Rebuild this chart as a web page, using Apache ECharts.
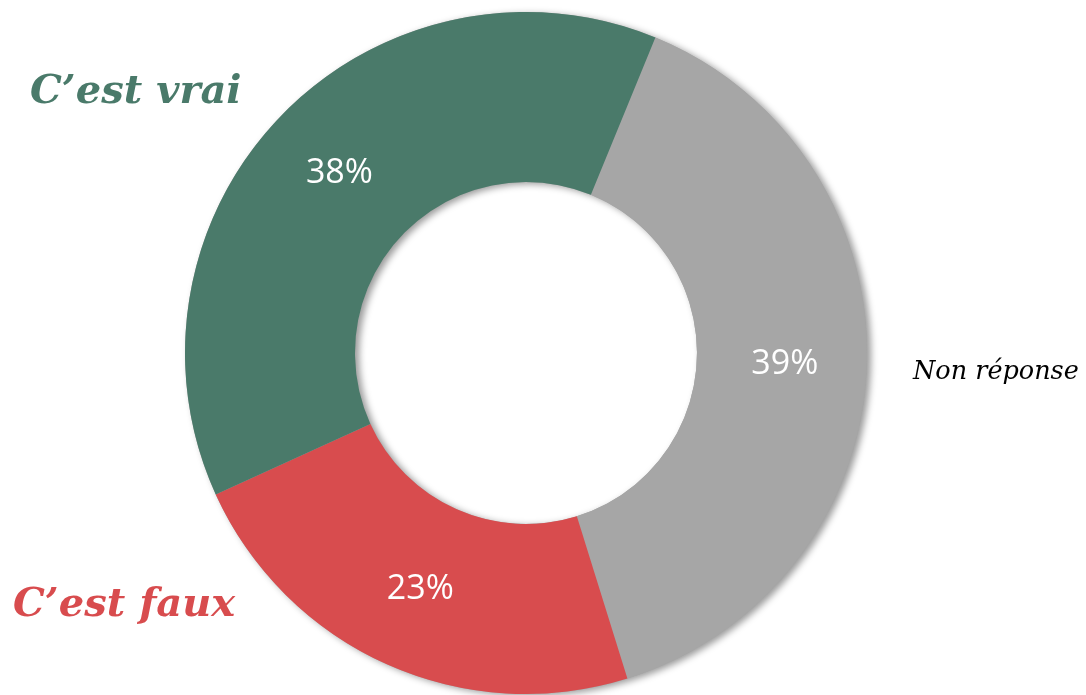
<!DOCTYPE html>
<html>
<head>
<meta charset="utf-8">
<script src="https://cdn.jsdelivr.net/npm/echarts@6/dist/echarts.min.js"></script>
<style>
  html, body { margin: 0; padding: 0; background: #fff; }
  #main { width: 1086px; height: 695px; }
</style>
</head>
<body>
<div id="main"></div>
<script>
// valeurs (sens horaire depuis le haut-droite)
var categories = ['Non réponse', "C’est faux", "C’est vrai"]
var values = [39, 23, 38]
var colors = ['#a6a6a6', '#d84c4e', '#4a7a6a']

var myChart = echarts.init(document.getElementById('main'))

var option = {
  backgroundColor: '#fff',
  animation: false,
  series: [
    // anneau de fond, seulement pour l'ombre
    {
      type: 'pie',
      silent: true,
      center: [526, 353],
      radius: [171, 341],
      z: 1,
      data: [{ value: 1, itemStyle: { color: '#a6a6a6' } }],
      itemStyle: {
        shadowColor: 'rgba(0,0,0,0.4)',
        shadowBlur: 7,
        shadowOffsetX: 4,
        shadowOffsetY: 2
      },
      label: { show: false },
      labelLine: { show: false }
    },
    {
      type: 'pie',
      center: [526, 353],
      radius: [171, 341],
      startAngle: 67.7,
      clockwise: true,
      z: 2,
      data: categories.map(function (c, i) {
        return { name: c, value: values[i], itemStyle: { color: colors[i] } }
      }),
      label: {
        show: true,
        position: 'inside',
        formatter: '{c}%',
        color: '#fff',
        fontFamily: 'Open Sans',
        fontSize: 34,
        padding: [8, 0, 0, 0]
      },
      labelLine: { show: false },
      emphasis: { disabled: true }
    }
  ],
  graphic: [
    {
      type: 'text', left: 30, top: 73,
      style: { text: "C’est vrai", fill: '#4a7a6a', font: 'italic bold 40px "DejaVu Serif"' }
    },
    {
      type: 'text', left: 13, top: 586,
      style: { text: "C’est faux", fill: '#d84c4e', font: 'italic bold 40px "DejaVu Serif"' }
    },
    {
      type: 'text', left: 913, top: 359,
      style: { text: 'Non réponse', fill: '#000', font: 'italic 25.5px "DejaVu Serif"' }
    }
  ]
}
myChart.setOption(option)
</script>
</body>
</html>
